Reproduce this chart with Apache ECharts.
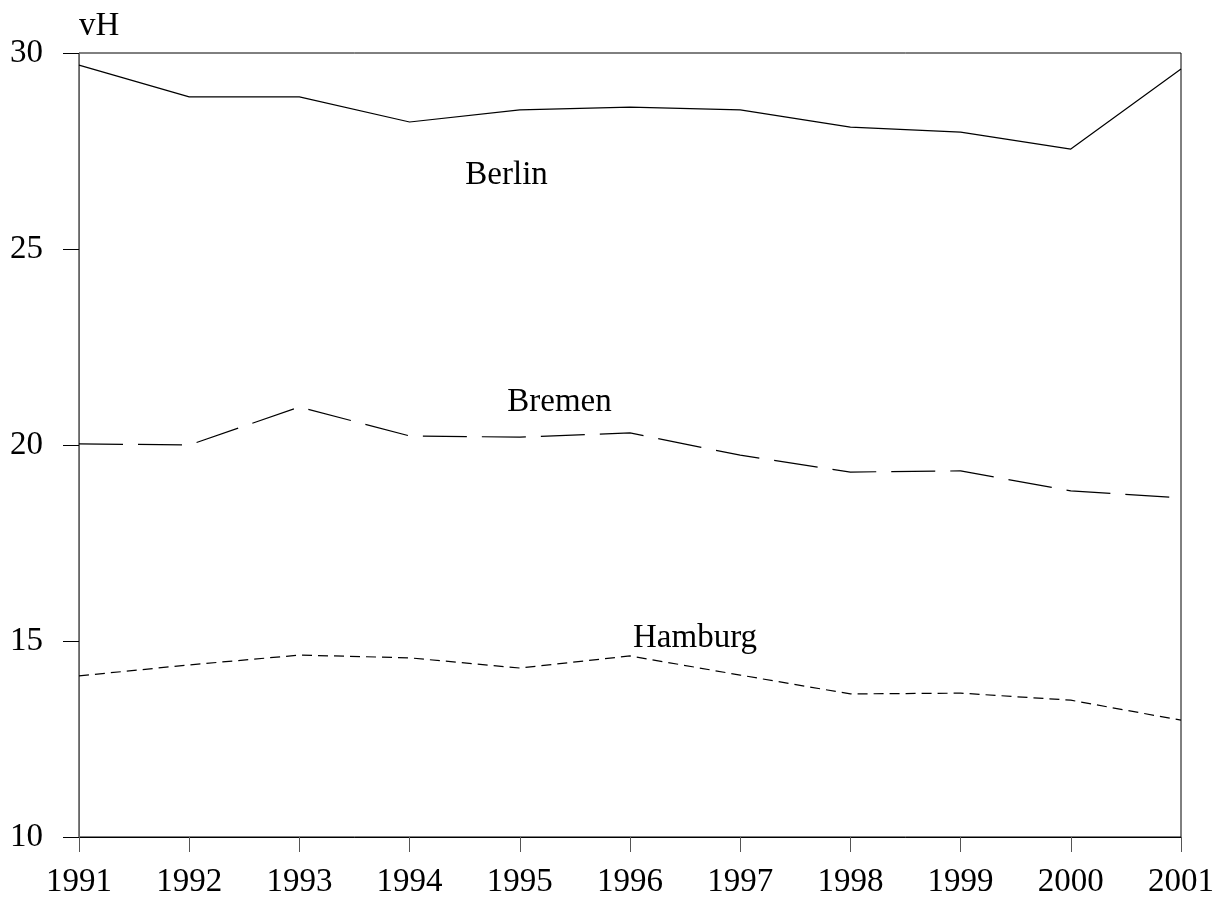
<!DOCTYPE html>
<html><head><meta charset="utf-8">
<script src="https://cdn.jsdelivr.net/npm/echarts@6/dist/echarts.min.js"></script>
<style>html,body{margin:0;padding:0;background:#fff}#c{width:1226px;height:903px}</style>
</head><body><div id="c"></div>
<script>
const years = [1991,1992,1993,1994,1995,1996,1997,1998,1999,2000,2001];
const berlin  = [29.69,28.88,28.88,28.24,28.55,28.62,28.55,28.11,27.98,27.55,29.59];
const bremen  = [20.03,20.00,20.97,20.23,20.20,20.31,19.74,19.31,19.34,18.83,18.65];
const hamburg = [14.11,14.39,14.64,14.57,14.31,14.62,14.13,13.65,13.67,13.49,12.98];
const yTicks = [10,15,20,25,30];
const labelNames = ['Berlin','Bremen','Hamburg'];
const labelX = [1994.88, 1995.36, 1996.59];
const labelY = [26.87, 21.08, 15.06];
const font = 'Liberation Serif, Times New Roman, serif';
const chart = echarts.init(document.getElementById('c'));
function pairs(v){return years.map((y,i)=>[y,v[i]]);}
chart.setOption({
  animation:false,
  grid:{left:79,right:45,top:53,bottom:66,show:true,borderColor:'#000',borderWidth:1},
  xAxis:{type:'value',min:1991,max:2001,interval:1,
    axisLine:{lineStyle:{color:'#000'}},
    axisTick:{show:true,length:15,lineStyle:{color:'#555'}},
    axisLabel:{margin:29,color:'#000',fontFamily:font,fontSize:33,formatter:v=>String(v)},
    splitLine:{show:false}},
  yAxis:{type:'value',min:10,max:30,interval:5,
    name:'vH',nameLocation:'end',nameGap:10,
    nameTextStyle:{color:'#000',fontFamily:font,fontSize:33,align:'left',padding:[0,0,0,0]},
    axisLine:{show:true,lineStyle:{color:'#666'}},
    axisTick:{show:true,inside:false,length:16,lineStyle:{color:'#000'}},
    axisLabel:{margin:36,color:'#000',fontFamily:font,fontSize:33,formatter:v=>yTicks.includes(v)?String(v):''},
    splitLine:{show:false}},
  series:[
    {type:'line',data:pairs(berlin),symbol:'none',lineStyle:{color:'#000',width:1.2,type:'solid'}},
    {type:'line',data:pairs(bremen),symbol:'none',lineStyle:{color:'#000',width:1.2,type:[44,15]}},
    {type:'line',data:pairs(hamburg),symbol:'none',lineStyle:{color:'#000',width:1.2,type:[10,6]}},
    {type:'scatter',symbolSize:0,itemStyle:{color:'#000',opacity:1},silent:true,
      data:labelNames.map((n,i)=>({value:[labelX[i],labelY[i]],name:n})),
      label:{show:true,position:'inside',formatter:p=>p.name,color:'#000',opacity:1,textBorderWidth:0,fontFamily:font,fontSize:33}}
  ]
});
</script></body></html>
